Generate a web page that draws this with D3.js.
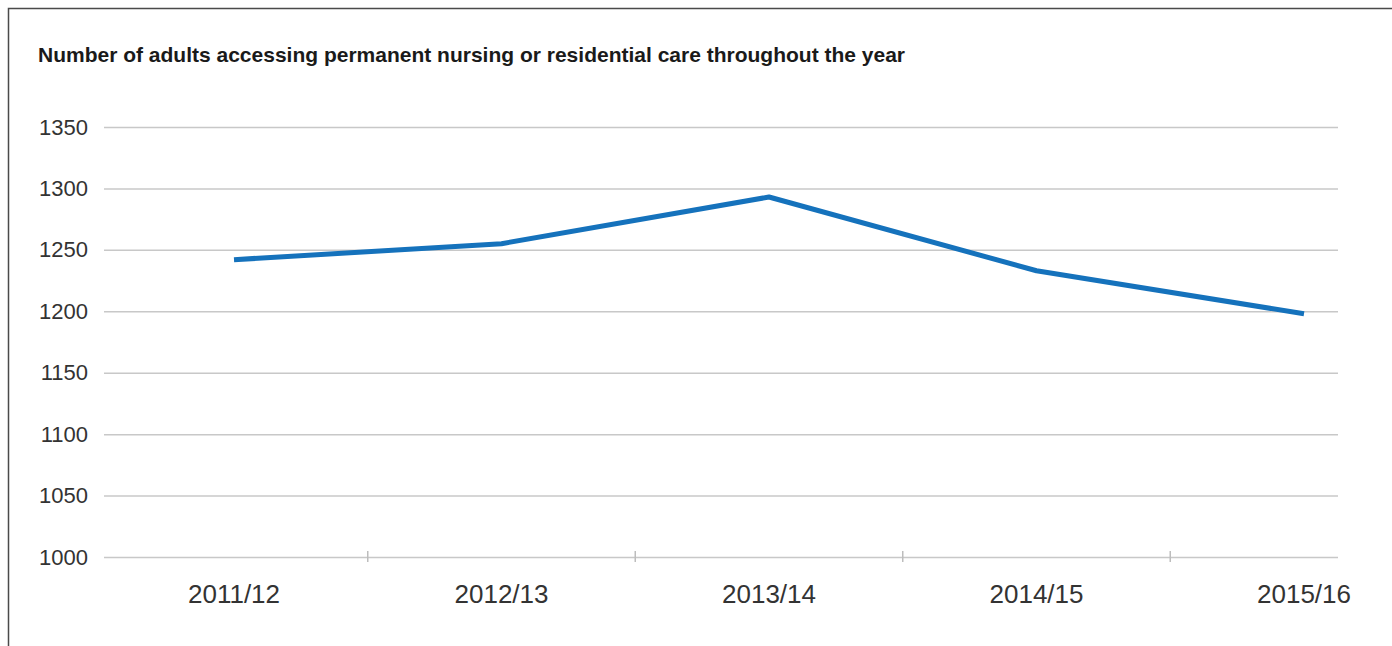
<!DOCTYPE html>
<html>
<head>
<meta charset="utf-8">
<script src="https://cdn.jsdelivr.net/npm/d3@7"></script>
<style>
  body { margin: 0; background: #fff; }
  text { font-family: "Liberation Sans", Arial, sans-serif; }
</style>
</head>
<body>
<script>
 // data
 const years = ['2011/12', '2012/13', '2013/14', '2014/15', '2015/16'];
 const adults = [1242, 1255, 1293, 1233, 1198];
 const yTicks = [1000, 1050, 1100, 1150, 1200, 1250, 1300, 1350];
 const title = 'Number of adults accessing permanent nursing or residential care throughout the year';

 // constants
 const width = 1392;
 const height = 646;
 const plot = { left: 104, right: 1338, top: 127, bottom: 557 };

 const svg = d3.select('body').append('svg')
       .attr('width', width).attr('height', height);

 // frame (left and top edges only)
 svg.append('path')
    .attr('d', `M8.5,${height} L8.5,8.5 L${width},8.5`)
    .attr('fill', 'none').attr('stroke', '#4a4a4a').attr('stroke-width', 1.5);

 svg.append('text').attr('x', 38).attr('y', 62)
    .attr('font-size', 21).attr('font-weight', 'bold').attr('fill', '#1a1a1a')
    .text(title);

 // scales
 const xScale = d3.scalePoint().domain(years).range([234, 1304]);
 const yScale = d3.scaleLinear().domain([1000, 1350]).range([plot.bottom, plot.top]);

 // grid + y labels
 const yAxis = svg.append('g').attr('transform', `translate(${plot.left},0)`)
    .call(d3.axisLeft(yScale).tickValues(yTicks)
          .tickSize(-(plot.right - plot.left)).tickPadding(16).tickFormat(d3.format('d')));
 yAxis.select('.domain').remove();
 yAxis.selectAll('line').attr('stroke', '#c8c8c8').attr('stroke-width', 1.5);
 yAxis.selectAll('text').attr('font-size', 22).attr('fill', '#333')
      .attr('font-family', '"Liberation Sans", Arial, sans-serif');

 // separator ticks between categories on the baseline
 const step = xScale.step();
 svg.append('g').selectAll('line').data(years.slice(1)).enter().append('line')
    .attr('x1', (d) => xScale(d) - step / 2).attr('x2', (d) => xScale(d) - step / 2)
    .attr('y1', yScale(1000) - 6).attr('y2', yScale(1000) + 5)
    .attr('stroke', '#bdbdbd').attr('stroke-width', 1.5);

 // x labels
 svg.append('g').selectAll('text').data(years).enter().append('text')
    .attr('x', (d) => xScale(d)).attr('y', 603)
    .attr('text-anchor', 'middle').attr('font-size', 26).attr('fill', '#333')
    .text((d) => d);

 // line
 const line = d3.line().x((d, i) => xScale(years[i])).y((d) => yScale(d));
 svg.append('path').datum(adults)
    .attr('d', line)
    .attr('fill', 'none').attr('stroke', '#1572bc').attr('stroke-width', 5)
    .attr('stroke-linejoin', 'round');
</script>
</body>
</html>
